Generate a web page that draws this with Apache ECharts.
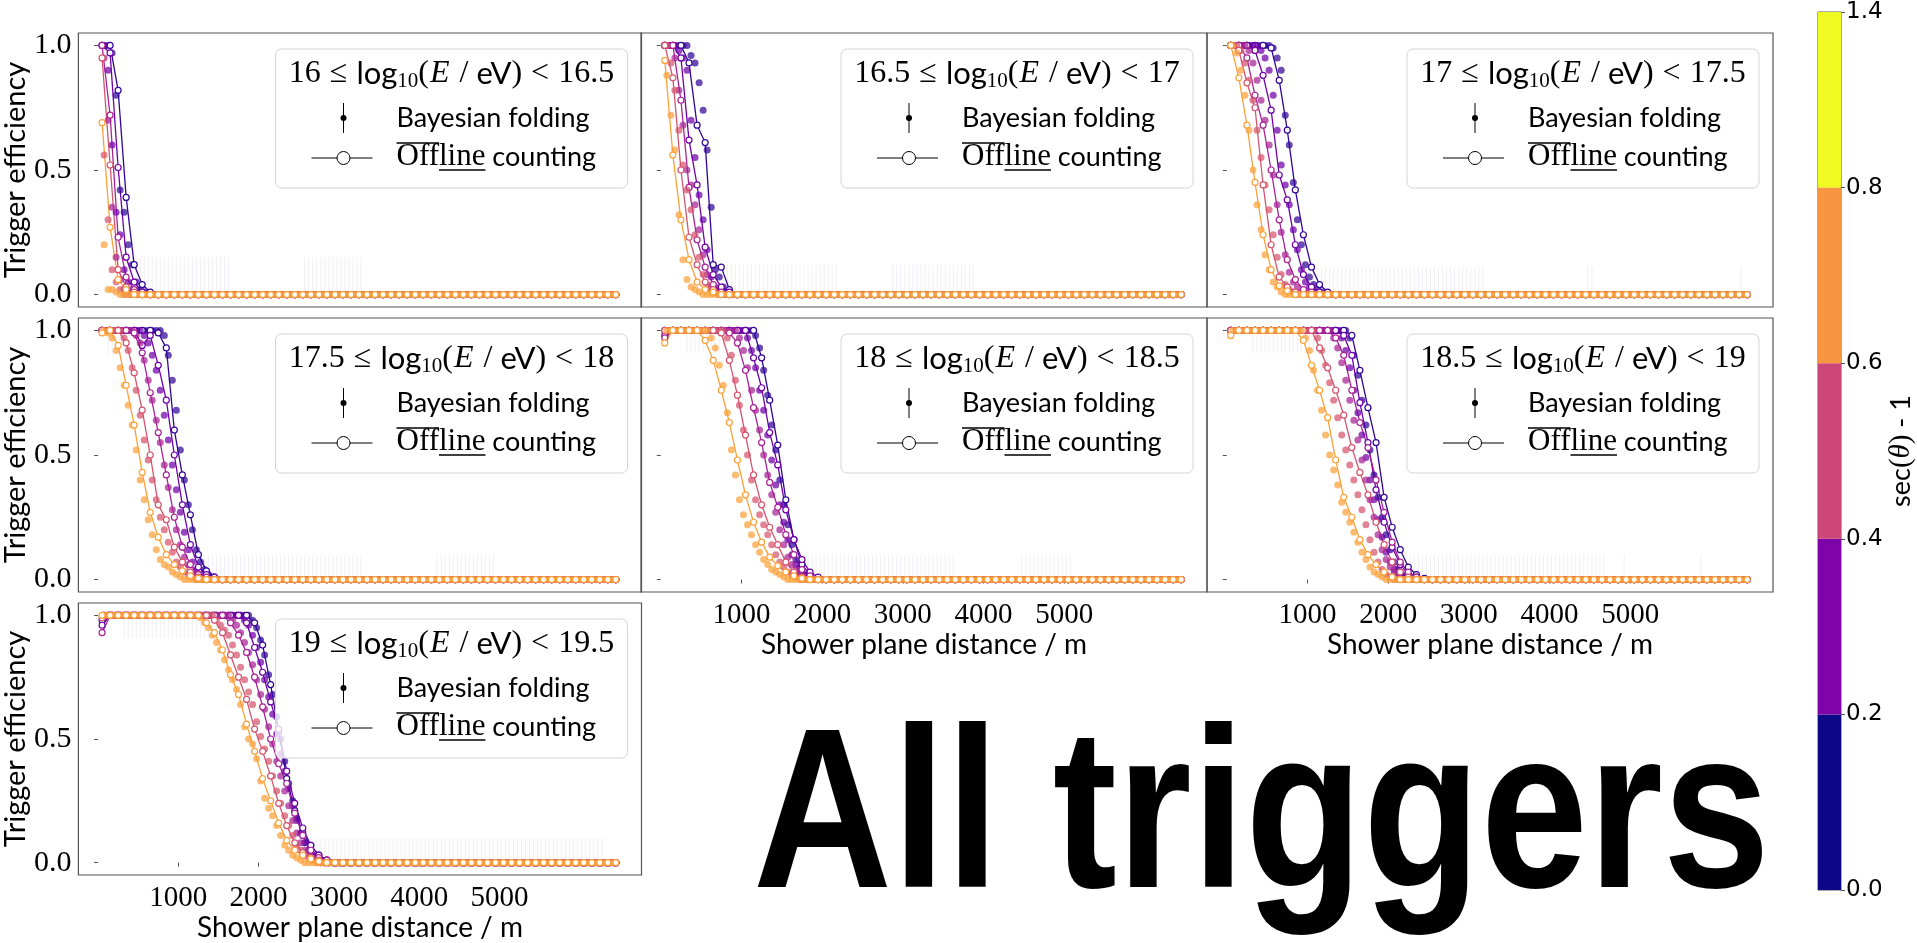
<!DOCTYPE html>
<html><head><meta charset="utf-8">
<script src="https://cdn.jsdelivr.net/npm/echarts@6/dist/echarts.min.js"></script>
<style>html,body{margin:0;padding:0;background:#fff;}#c{width:1917px;height:943px;}</style>
</head><body><div id="c"></div><script>
// ---------- data ----------
const R = (v, n) => Array(n).fill(v);   // run of identical read values
const energyLow  = ['16','16.5','17','17.5','18','18.5','19'];
const energyHigh = ['16.5','17','17.5','18','18.5','19','19.5'];
const xTicks = [1000, 2000, 3000, 4000, 5000];
const yTicks = [0, 0.5, 1];
const cbBounds = [0.0, 0.2, 0.4, 0.6, 0.8, 1.4];
const cbColors = ['#0d0887', '#7e03a8', '#cc4778', '#f89540', '#f0f921'];
const lineColors = ['#320597', '#6f02a7', '#a82296', '#d5546e', '#fba139'];
// Offline counting: x = 50, 150, 250 ... 6450 m ; values past the end of a list are 0.0
const OFF_X0 = 50, OFF_DX = 100, OFF_N = 65;
// Bayesian folding: x = 75, 125, 175 ... 6425 m ; values past the end of a list are 0.0
const BAY_X0 = 75, BAY_DX = 50, BAY_N = 128;

const off1 = [
  [1, 1, 0.82, 0.39, 0.12, 0.04, 0.01],
  [1, 0.97, 0.51, 0.15, 0.05, 0.01],
  [1, 0.72, 0.23, 0.07, 0.02],
  [0.95, 0.52, 0.10, 0.03, 0.01],
  [0.69, 0.27, 0.06, 0.02]];
const bay1 = [
  [1, 1, 0.97, 0.80, 0.42, 0.33, 0.20, 0.12, 0.05, 0.02, 0.01],
  [1, 0.90, 0.60, 0.33, 0.24, 0.10, 0.05, 0.02, 0.01],
  [0.95, 0.70, 0.35, 0.15, 0.06, 0.02, 0.01],
  [0.56, 0.30, 0.10, 0.05, 0.02],
  [0.20, 0.02, 0.02, 0.01]];

const off2 = [
  [1, 1, 1, 0.93, 0.68, 0.61, 0.12, 0.11, 0.02],
  [1, 1, 0.95, 0.62, 0.44, 0.19, 0.08, 0.03, 0.01],
  [1, 1, 0.78, 0.43, 0.22, 0.11, 0.04, 0.01],
  [1, 0.87, 0.50, 0.23, 0.12, 0.05, 0.02],
  [0.94, 0.56, 0.30, 0.14, 0.05, 0.02, 0.01]];
const bay2 = [
  [1, 1, 1, 1, 1, 1, 0.96, 0.93, 0.85, 0.74, 0.58, 0.35, 0.10, 0.07, 0.03, 0.01],
  [1, 1, 1, 0.98, 0.95, 0.90, 0.70, 0.55, 0.40, 0.30, 0.18, 0.07, 0.03, 0.01],
  [1, 1, 0.95, 0.82, 0.68, 0.50, 0.44, 0.36, 0.26, 0.16, 0.08, 0.03, 0.01],
  [1, 0.93, 0.82, 0.66, 0.52, 0.42, 0.34, 0.24, 0.15, 0.08, 0.04, 0.02, 0.01],
  [0.88, 0.72, 0.58, 0.32, 0.14, 0.06, 0.03, 0.02, 0.01]];

const off3 = [
  [1, 1, 1, 1, 1, 0.99, 0.86, 0.66, 0.42, 0.24, 0.11, 0.04, 0.01],
  [1, 1, 1, 0.98, 0.88, 0.74, 0.48, 0.38, 0.20, 0.08, 0.03, 0.01],
  [1, 1, 0.95, 0.80, 0.68, 0.50, 0.30, 0.14, 0.06, 0.02, 0.01],
  [1, 0.98, 0.85, 0.75, 0.44, 0.20, 0.07, 0.03, 0.01],
  [1, 0.87, 0.68, 0.45, 0.24, 0.10, 0.035, 0.015]];
const bay3 = [
  [...R(1, 10), 0.99, 0.95, 0.90, 0.72, 0.60, 0.45, 0.30, 0.20, 0.12, 0.07, 0.04, 0.02, 0.01],
  [...R(1, 7), 0.98, 0.95, 0.90, 0.80, 0.66, 0.52, 0.44, 0.36, 0.26, 0.18, 0.10, 0.05, 0.03, 0.01],
  [1, 1, 1, 1, 0.98, 0.93, 0.86, 0.78, 0.70, 0.60, 0.48, 0.36, 0.25, 0.16, 0.09, 0.05, 0.03, 0.01],
  [1, 1, 0.98, 0.93, 0.86, 0.78, 0.66, 0.55, 0.44, 0.34, 0.24, 0.15, 0.08, 0.04, 0.02, 0.01],
  [1, 0.97, 0.90, 0.80, 0.66, 0.50, 0.36, 0.26, 0.16, 0.10, 0.05, 0.03, 0.01]];

const off4 = [
  [...R(1, 7), 0.99, 0.93, 0.60, 0.42, 0.26, 0.10, 0.035, 0.01],
  [1, 1, 1, 1, 1, 0.94, 0.98, 0.86, 0.72, 0.50, 0.30, 0.14, 0.05, 0.02, 0.01],
  [1, 1, 1, 1, 0.99, 0.91, 0.75, 0.59, 0.42, 0.25, 0.13, 0.06, 0.02, 0.01],
  [1, 1, 1, 0.95, 0.83, 0.68, 0.50, 0.30, 0.24, 0.13, 0.07, 0.03, 0.01],
  [0.99, 1, 0.94, 0.78, 0.62, 0.43, 0.27, 0.17, 0.10, 0.06, 0.035, 0.015, 0.005]];
const bay4 = [
  [...R(1, 15), 0.98, 0.90, 0.80, 0.68, 0.52, 0.40, 0.30, 0.20, 0.12, 0.07, 0.04, 0.02, 0.01],
  [...R(1, 10), 0.98, 0.95, 0.90, 0.84, 0.76, 0.66, 0.56, 0.46, 0.36, 0.27, 0.19, 0.12, 0.07, 0.04, 0.02, 0.01],
  [...R(1, 8), 0.98, 0.95, 0.88, 0.80, 0.72, 0.64, 0.55, 0.46, 0.37, 0.28, 0.20, 0.14, 0.09, 0.06, 0.03, 0.02, 0.01],
  [...R(1, 5), 0.97, 0.92, 0.85, 0.76, 0.66, 0.56, 0.48, 0.40, 0.32, 0.25, 0.20, 0.15, 0.11, 0.07, 0.05, 0.03, 0.02, 0.01],
  [1, 0.99, 0.97, 0.92, 0.85, 0.78, 0.70, 0.62, 0.52, 0.40, 0.32, 0.24, 0.18, 0.12, 0.08, 0.06, 0.05, 0.03, 0.02, 0.01]];

const off5 = [
  [...R(1, 12), 0.89, 0.72, 0.54, 0.32, 0.16, 0.06, 0.02, 0.005],
  [0.98, ...R(1, 10), 0.89, 0.77, 0.59, 0.46, 0.28, 0.16, 0.08, 0.03, 0.01],
  [0.97, ...R(1, 7), 0.99, 0.95, 0.84, 0.69, 0.55, 0.39, 0.29, 0.18, 0.10, 0.04, 0.015],
  [...R(1, 7), 0.99, 0.88, 0.74, 0.58, 0.42, 0.30, 0.21, 0.14, 0.07, 0.03, 0.01],
  [0.95, ...R(1, 4), 0.96, 0.88, 0.76, 0.63, 0.48, 0.34, 0.23, 0.15, 0.09, 0.055, 0.03, 0.015, 0.005]];
const bay5 = [
  [...R(1, 22), 0.98, 0.93, 0.84, 0.74, 0.62, 0.52, 0.40, 0.30, 0.22, 0.14, 0.08, 0.05, 0.02, 0.01],
  [...R(1, 20), 0.97, 0.92, 0.85, 0.76, 0.68, 0.58, 0.48, 0.38, 0.30, 0.23, 0.16, 0.10, 0.06, 0.03, 0.02, 0.01],
  [...R(1, 18), 0.97, 0.92, 0.85, 0.76, 0.68, 0.60, 0.50, 0.42, 0.34, 0.27, 0.20, 0.14, 0.09, 0.06, 0.04, 0.02, 0.01],
  [...R(1, 15), 0.97, 0.90, 0.80, 0.70, 0.60, 0.50, 0.40, 0.32, 0.26, 0.22, 0.18, 0.14, 0.10, 0.07, 0.05, 0.03, 0.02, 0.01],
  [...R(1, 11), 0.97, 0.93, 0.86, 0.78, 0.67, 0.52, 0.42, 0.32, 0.26, 0.22, 0.18, 0.14, 0.11, 0.08, 0.06, 0.04, 0.03, 0.02, 0.01]];

const off6 = [
  [...R(1, 15), 0.98, 0.84, 0.69, 0.55, 0.33, 0.21, 0.12, 0.05, 0.02, 0.005],
  [...R(1, 14), 0.98, 0.90, 0.71, 0.55, 0.36, 0.23, 0.13, 0.06, 0.02, 0.01],
  [...R(1, 13), 0.97, 0.90, 0.76, 0.63, 0.53, 0.40, 0.27, 0.15, 0.07, 0.03, 0.01],
  [...R(1, 11), 0.93, 0.85, 0.76, 0.66, 0.53, 0.43, 0.34, 0.23, 0.14, 0.07, 0.03, 0.01],
  [0.98, ...R(1, 8), 0.96, 0.86, 0.76, 0.65, 0.48, 0.33, 0.25, 0.16, 0.10, 0.06, 0.03, 0.01]];
const bay6 = [
  [...R(1, 29), 0.97, 0.90, 0.82, 0.72, 0.62, 0.52, 0.42, 0.33, 0.25, 0.18, 0.12, 0.07, 0.04, 0.02, 0.01],
  [...R(1, 27), 0.97, 0.92, 0.85, 0.76, 0.67, 0.58, 0.49, 0.40, 0.32, 0.24, 0.17, 0.11, 0.07, 0.04, 0.02, 0.01],
  [...R(1, 25), 0.97, 0.93, 0.87, 0.80, 0.72, 0.64, 0.56, 0.48, 0.40, 0.32, 0.25, 0.18, 0.12, 0.08, 0.05, 0.03, 0.01],
  [...R(1, 21), 0.97, 0.92, 0.86, 0.79, 0.72, 0.65, 0.58, 0.52, 0.46, 0.40, 0.34, 0.28, 0.22, 0.16, 0.11, 0.07, 0.04, 0.02, 0.01],
  [...R(1, 18), 0.97, 0.92, 0.84, 0.76, 0.68, 0.58, 0.50, 0.44, 0.38, 0.31, 0.27, 0.23, 0.19, 0.15, 0.11, 0.08, 0.05, 0.03, 0.02, 0.01]];

const off7 = [
  [0.98, ...R(1, 18), 0.97, 0.88, 0.72, 0.53, 0.34, 0.21, 0.12, 0.07, 0.03, 0.01],
  [0.96, ...R(1, 17), 0.97, 0.87, 0.77, 0.65, 0.54, 0.37, 0.24, 0.14, 0.07, 0.03, 0.01],
  [0.93, ...R(1, 15), 0.97, 0.92, 0.85, 0.75, 0.63, 0.50, 0.40, 0.32, 0.20, 0.11, 0.05, 0.02, 0.01],
  [0.99, ...R(1, 13), 0.98, 0.93, 0.84, 0.75, 0.66, 0.54, 0.45, 0.35, 0.24, 0.15, 0.08, 0.04, 0.02, 0.01],
  [1, ...R(1, 12), 0.97, 0.93, 0.86, 0.76, 0.68, 0.56, 0.45, 0.34, 0.25, 0.16, 0.09, 0.05, 0.03, 0.015, 0.005]];
const bay7 = [
  [...R(1, 37), 0.98, 0.95, 0.90, 0.84, 0.76, 0.68, 0.59, 0.50, 0.41, 0.32, 0.25, 0.18, 0.12, 0.08, 0.05, 0.03, 0.02, 0.01],
  [...R(1, 35), 0.98, 0.96, 0.92, 0.87, 0.81, 0.74, 0.67, 0.60, 0.52, 0.44, 0.37, 0.30, 0.23, 0.17, 0.12, 0.08, 0.05, 0.03, 0.02, 0.01],
  [...R(1, 32), 0.98, 0.96, 0.93, 0.89, 0.85, 0.80, 0.74, 0.68, 0.62, 0.55, 0.48, 0.41, 0.35, 0.29, 0.23, 0.17, 0.12, 0.08, 0.05, 0.03, 0.02, 0.01],
  [...R(1, 28), 0.98, 0.96, 0.94, 0.92, 0.88, 0.84, 0.79, 0.74, 0.69, 0.64, 0.57, 0.51, 0.46, 0.41, 0.35, 0.29, 0.24, 0.19, 0.15, 0.11, 0.07, 0.05, 0.03, 0.02, 0.01],
  [...R(1, 24), 0.99, 0.97, 0.95, 0.92, 0.89, 0.86, 0.82, 0.78, 0.74, 0.70, 0.64, 0.55, 0.50, 0.48, 0.42, 0.33, 0.26, 0.22, 0.19, 0.15, 0.11, 0.07, 0.05, 0.03, 0.02, 0.01]];

// faint Bayesian error bars: [from m, to m, upper value] in the zero tail; [from, to, lower value] on the plateau
const errZero = [
  [[400, 1650, 0.15], [2550, 3300, 0.15]],
  [[740, 2190, 0.12], [2860, 3900, 0.12]],
  [[1040, 3180, 0.11], [4440, 4550, 0.11], [6350, 6400, 0.11]],
  [[1300, 3310, 0.10], [4200, 4960, 0.10]],
  [[1770, 3650, 0.10], [4460, 5100, 0.10]],
  [[2200, 4680, 0.10], [4900, 4950, 0.10], [5850, 5900, 0.10]],
  [[2650, 6300, 0.10]]];
const errOne = [
  [],
  [[60, 470, 0.90]],
  [[95, 610, 0.89]],
  [[120, 315, 0.90]],
  [[300, 820, 0.91]],
  [[300, 1440, 0.91]],
  [[300, 1840, 0.91]]];

const offAll = [off1, off2, off3, off4, off5, off6, off7];
const bayAll = [bay1, bay2, bay3, bay4, bay5, bay6, bay7];

// ---------- layout / style ----------
const SERIF = 'Liberation Serif', SANS = 'Lato';
const FRAME = '#555555';
const GL = [75.5, 641, 1207], GT = [33, 318, 603], GW = 566, GH = 274;
const panelPos = [[0, 0], [0, 1], [0, 2], [1, 0], [1, 1], [1, 2], [2, 0]];
const XMIN = -245, XMAX = 6770;

const mctx = document.createElement('canvas').getContext('2d');
function tw(text, font) { mctx.font = font; return mctx.measureText(text).width; }

const grid = [], xAxis = [], yAxis = [], series = [], graphics = [];

panelPos.forEach(([r, c], i) => {
  grid.push({left: GL[c], top: GT[r], width: GW, height: GH, show: true,
    borderColor: FRAME, borderWidth: 1.2, backgroundColor: 'transparent'});
  const showX = i >= 4, showY = c === 0;
  xAxis.push({gridIndex: i, type: 'value', min: XMIN, max: XMAX,
    axisLine: {show: false}, splitLine: {show: false},
    axisTick: {show: showX, customValues: xTicks, length: 4, lineStyle: {color: FRAME}},
    axisLabel: {show: showX, customValues: xTicks, formatter: v => String(v),
      fontFamily: SERIF, fontSize: 29, color: '#000', margin: 9},
    name: showX ? 'Shower plane distance / m' : '', nameLocation: 'middle', nameGap: 39,
    nameTextStyle: {fontFamily: SANS, fontSize: 28, color: '#000'}});
  yAxis.push({gridIndex: i, type: 'value', min: -0.05, max: 1.05,
    axisLine: {show: false}, splitLine: {show: false},
    axisTick: {show: true, customValues: yTicks, length: 4, lineStyle: {color: FRAME}},
    axisLabel: {show: showY, customValues: yTicks, formatter: v => v.toFixed(1),
      fontFamily: SERIF, fontSize: 30, color: '#000', margin: 7},
    name: showY ? 'Trigger efficiency' : '', nameLocation: 'middle', nameGap: 46,
    nameTextStyle: {fontFamily: SANS, fontSize: 29, color: '#000'}});

  // error bars
  const eb = [];
  for (let k = 0; k < BAY_N; k++) {
    const x = BAY_X0 + k * BAY_DX;
    errZero[i].forEach(([a, b, t]) => { if (x >= a && x <= b) eb.push([x, 0, t]); });
    errOne[i].forEach(([a, b, t]) => { if (x >= a && x <= b) eb.push([x, t, 1]); });
  }
  series.push({type: 'custom', xAxisIndex: i, yAxisIndex: i, silent: true, z: 1,
    encode: {x: 0, y: [1, 2]}, data: eb,
    renderItem: (params, api) => {
      const p1 = api.coord([api.value(0), api.value(1)]);
      const p2 = api.coord([api.value(0), api.value(2)]);
      return {type: 'line', shape: {x1: p1[0], y1: p1[1], x2: p2[0], y2: p2[1]},
        style: {stroke: 'rgba(125,100,180,0.11)', lineWidth: 1}};
    }});

  for (let s = 0; s < 5; s++) {
    const col = lineColors[s];
    const b = bayAll[i][s], o = offAll[i][s];
    const bd = [], od = [];
    for (let k = 0; k < BAY_N; k++) bd.push([BAY_X0 + k * BAY_DX, k < b.length ? b[k] : 0]);
    for (let k = 0; k < OFF_N; k++) od.push([OFF_X0 + k * OFF_DX, k < o.length ? o[k] : 0]);
    series.push({type: 'scatter', xAxisIndex: i, yAxisIndex: i, data: bd, symbolSize: 7,
      itemStyle: {color: col, opacity: 0.72}, silent: true, z: 2});
    series.push({type: 'line', xAxisIndex: i, yAxisIndex: i, data: od, symbol: 'circle',
      symbolSize: 6, showAllSymbol: true, silent: true, z: 2,
      itemStyle: {color: '#fff', borderColor: col, borderWidth: 1.2},
      lineStyle: {color: col, width: 1.3}});
  }

  // legend box
  const right = GL[c] + GW - 14, left = right - 352, top = GT[r] + 16;
  graphics.push({type: 'rect', z: 100, shape: {x: left, y: top, width: 352, height: 139, r: 6},
    style: {fill: 'rgba(255,255,255,0.8)', stroke: '#d4d4d4', lineWidth: 1}});
  graphics.push({type: 'text', z: 101, x: left + 176, y: top + 25, style: {
    text: `{n|${energyLow[i]}}{r|≤}{s|log}{sub|10}{n|(}{i|E}{n| / }{s|eV}{n|)}{r|<}{n|${energyHigh[i]}}`,
    fill: '#000', align: 'center', verticalAlign: 'middle',
    rich: {
      n: {fontFamily: SERIF, fontSize: 32, fill: '#000'},
      r: {fontFamily: SERIF, fontSize: 32, fill: '#000', padding: [0, 9, 0, 9]},
      s: {fontFamily: SANS, fontSize: 31, fill: '#000'},
      sub: {fontFamily: SERIF, fontSize: 21, fill: '#000', padding: [14, 0, 0, 0]},
      i: {fontFamily: SERIF, fontSize: 32, fontStyle: 'italic', fill: '#000', padding: [0, 2, 0, 1]}
    }}});
  graphics.push({type: 'line', z: 101, shape: {x1: left + 68, y1: top + 54, x2: left + 68, y2: top + 84},
    style: {stroke: '#000', lineWidth: 1}});
  graphics.push({type: 'circle', z: 102, shape: {cx: left + 68, cy: top + 69, r: 3}, style: {fill: '#000'}});
  graphics.push({type: 'text', z: 101, x: left + 121, y: top + 69, style: {
    text: 'Bayesian folding', fontFamily: SANS, fontSize: 27, fill: '#000', align: 'left', verticalAlign: 'middle'}});
  graphics.push({type: 'line', z: 101, shape: {x1: left + 36, y1: top + 109, x2: left + 97, y2: top + 109},
    style: {stroke: '#000', lineWidth: 1}});
  graphics.push({type: 'circle', z: 102, shape: {cx: left + 68, cy: top + 109, r: 6.5},
    style: {fill: '#fff', stroke: '#000', lineWidth: 1}});
  graphics.push({type: 'text', z: 101, x: left + 121, y: top + 108, style: {
    text: '{o|Off}{o|line}{s| counting}', fill: '#000', align: 'left', verticalAlign: 'middle',
    rich: {o: {fontFamily: SERIF, fontSize: 31, fill: '#000'}, s: {fontFamily: SANS, fontSize: 27, fill: '#000'}}}});
  const wOff = tw('Off', '31px Liberation Serif'), wLine = tw('line', '31px Liberation Serif');
  graphics.push({type: 'line', z: 101, shape: {x1: left + 121, y1: top + 94, x2: left + 121 + wOff, y2: top + 94},
    style: {stroke: '#000', lineWidth: 1.5}});
  graphics.push({type: 'line', z: 101, shape: {x1: left + 121 + wOff, y1: top + 121, x2: left + 121 + wOff + wLine, y2: top + 121},
    style: {stroke: '#000', lineWidth: 1.5}});
});

// colorbar
grid.push({left: 1818, top: 12, width: 23, height: 878, show: true, borderColor: FRAME, borderWidth: 1, backgroundColor: 'transparent'});
xAxis.push({gridIndex: 7, type: 'category', data: ['cb'], show: false});
const cbIdx = cbBounds.map((_, k) => k);
yAxis.push({gridIndex: 7, type: 'value', min: 0, max: cbBounds.length - 1, position: 'right',
  axisLine: {show: false}, splitLine: {show: false},
  axisTick: {show: true, customValues: cbIdx, length: 4, lineStyle: {color: FRAME}},
  axisLabel: {customValues: cbIdx, formatter: v => cbBounds[Math.round(v)].toFixed(1),
    fontFamily: 'DejaVu Sans', fontSize: 23, color: '#000', margin: 5},
  name: '{s|sec}{m|(}{t|θ}{m|)}{s| - 1}', nameLocation: 'middle', nameRotate: 90, nameGap: 36,
  nameTextStyle: {rich: {
    s: {fontFamily: SANS, fontSize: 27, color: '#000'},
    m: {fontFamily: SERIF, fontSize: 29, color: '#000'},
    t: {fontFamily: SERIF, fontSize: 29, fontStyle: 'italic', color: '#000'}}}});
cbColors.forEach((col, k) => {
  series.push({type: 'bar', xAxisIndex: 7, yAxisIndex: 7, stack: 'cb', data: [1], barWidth: '100%',
    itemStyle: {color: col}, silent: true, z: 1});
});

graphics.push({type: 'text', z: 50, x: 753, y: 824, scaleX: 0.845, originX: 0, originY: 0, style: {
  text: 'All triggers', fontFamily: 'Liberation Sans', fontWeight: 'bold', fontSize: 228,
  fill: '#000', align: 'left', verticalAlign: 'middle'}});

const chart = echarts.init(document.getElementById('c'), null, {renderer: 'canvas'});
chart.setOption({animation: false, backgroundColor: '#fff', grid, xAxis, yAxis, series,
  graphic: {elements: graphics}});
</script></body></html>
